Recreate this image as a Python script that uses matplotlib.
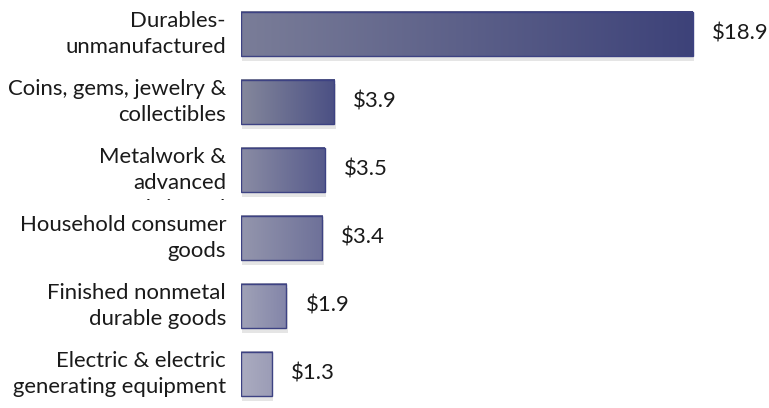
import numpy as np
import matplotlib.pyplot as plt
import matplotlib.patheffects as pe
from matplotlib.colors import LinearSegmentedColormap
from matplotlib.transforms import Bbox, TransformedBbox

plt.rcParams['font.family'] = ['Lato', 'DejaVu Sans']

categories = ["Durables-\nunmanufactured",
              "Coins, gems, jewelry &\ncollectibles",
              "Metalwork &\nadvanced\nfabricated",
              "Household consumer\ngoods",
              "Finished nonmetal\ndurable goods",
              "Electric & electric\ngenerating equipment"]
values = [18.9, 3.9, 3.5, 3.4, 1.9, 1.3]
value_labels = ["$18.9", "$3.9", "$3.5", "$3.4", "$1.9", "$1.3"]

# left / right colour of each bar's gradient
grad_colors = [("#7a7d98", "#3d4279"),
               ("#85889c", "#4b5084"),
               ("#8a8ca4", "#575b8c"),
               ("#9496ad", "#6e7199"),
               ("#a0a2b7", "#8385a9"),
               ("#abacc0", "#9b9cb6")]
edge = "#3d4283"
h = 0.66
fs = 15.9

fig = plt.figure(figsize=(7.69, 4.08), dpi=100)
ax = fig.add_axes([241/769, 0, (769-241)/769, 1])
y = np.arange(len(values))

# soft shadow under the bars
ax.barh(y, values, height=h, color='none', edgecolor='none', zorder=1,
        path_effects=[pe.SimplePatchShadow(offset=(1, -3), shadow_rgbFace='0.6', alpha=0.25)])

grad = np.linspace(0, 1, 256).reshape(1, -1)
for i, v in enumerate(values):
    cmap = LinearSegmentedColormap.from_list("g%d" % i, grad_colors[i])
    ax.imshow(grad, cmap=cmap, extent=[0, v, i + h/2, i - h/2],
              aspect='auto', interpolation='bicubic', zorder=2)

ax.barh(y, values, height=h, color='none', edgecolor=edge, linewidth=1, zorder=3)

clip = TransformedBbox(Bbox([[0, (408-200)/408], [1, 1]]), fig.transFigure)
for i, (lab, v, vl) in enumerate(zip(categories, values, value_labels)):
    three = lab.count("\n") == 2
    dy = -9.4 if three else 0
    t = ax.annotate(lab, xy=(0, i), xytext=(-10.8, dy), textcoords='offset points',
                    ha='right', va='center', fontsize=fs, color='#1a1a1a',
                    linespacing=1.4, annotation_clip=False)
    if three:
        t.set_clip_box(clip)
        t.set_clip_on(True)
    ax.annotate(vl, xy=(v, i), xytext=(13.7, 0), textcoords='offset points',
                ha='left', va='center', fontsize=fs, color='#1a1a1a',
                annotation_clip=False)

ax.set_xlim(0, (769-241)/23.9)
ax.set_ylim(5.5, -0.5)
ax.axis('off')

fig.savefig("out.png", dpi=100)
